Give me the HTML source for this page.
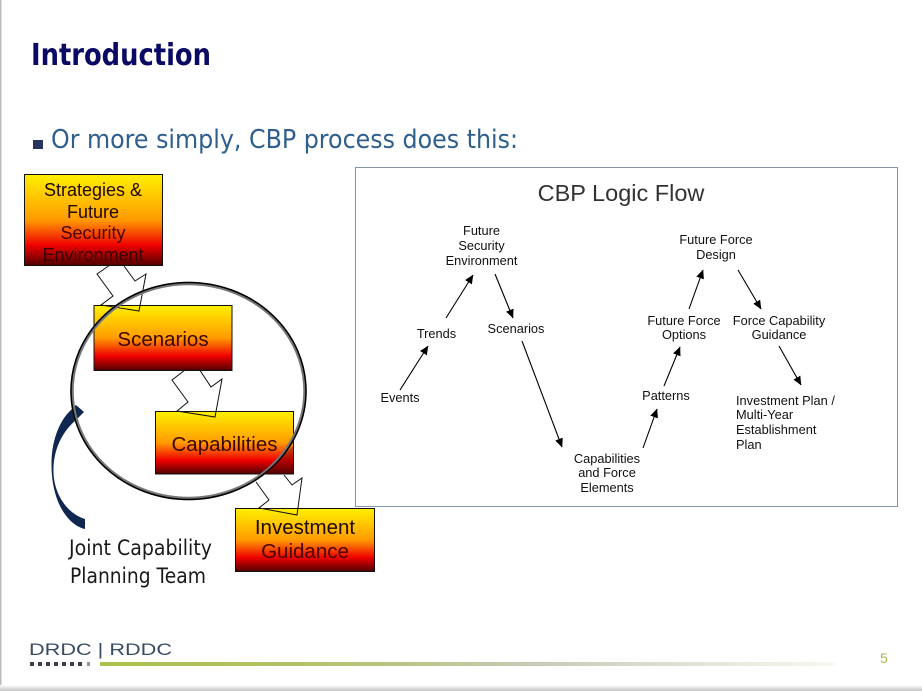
<!DOCTYPE html>
<html><head><meta charset="utf-8"><style>
html,body{margin:0;padding:0;background:#fff;overflow:hidden}
svg{display:block;filter:blur(.35px)}
text{font-family:"Liberation Sans",sans-serif}
</style></head><body>
<svg width="922" height="691" viewBox="0 0 922 691" xmlns="http://www.w3.org/2000/svg">
<defs>
<linearGradient id="g" x1="0" y1="0" x2="0" y2="1">
<stop offset="0" stop-color="#fff000"/><stop offset=".5" stop-color="#ff9a00"/><stop offset=".78" stop-color="#ef0000"/><stop offset="1" stop-color="#500000"/>
</linearGradient>
<linearGradient id="bar" x1="0" y1="0" x2="1" y2="0">
<stop offset="0" stop-color="#a9c24a"/><stop offset=".3" stop-color="#b3c36a"/><stop offset=".6" stop-color="#c8cbb8"/><stop offset="1" stop-color="#f8f8f4"/>
</linearGradient>
<linearGradient id="bot" x1="0" y1="0" x2="0" y2="1">
<stop offset="0" stop-color="#fff"/><stop offset="1" stop-color="#c4c4c4"/>
</linearGradient>
<marker id="a" markerUnits="userSpaceOnUse" markerWidth="9" markerHeight="8" refX="8.5" refY="4" orient="auto"><path d="M0 0L9 4L0 8Z" fill="#000"/></marker>
</defs>
<rect width="922" height="691" fill="#fff"/>
<rect x="0" y="0" width="1.5" height="691" fill="#bbb"/>
<rect x="0" y="685" width="922" height="6" fill="url(#bot)"/>

<text x="31" y="65" font-size="30" font-weight="bold" fill="#0a0a64" textLength="180" lengthAdjust="spacingAndGlyphs" style="font-family:'DejaVu Sans',sans-serif">Introduction</text>
<rect x="33" y="140" width="10" height="9" fill="#27345f"/>
<text x="51" y="148" font-size="26" fill="#2f5f8c" textLength="467" lengthAdjust="spacingAndGlyphs" style="font-family:'DejaVu Sans',sans-serif">Or more simply, CBP process does this:</text>

<rect x="24.5" y="174.5" width="138" height="91" fill="url(#g)" stroke="#111" stroke-width="1"/>
<g font-size="18" text-anchor="middle" fill="#1c0800">
<text x="93" y="196">Strategies &amp;</text>
<text x="93" y="218">Future</text>
<text x="93" y="239" fill="#4a0000">Security</text>
<text x="93" y="261" fill="#3a0000">Environment</text>
</g>
<rect x="94" y="305.5" width="138" height="65" fill="url(#g)" stroke="#111" stroke-width="1"/>
<text x="163" y="346" font-size="20.500" text-anchor="middle" fill="#3a0600">Scenarios</text>
<rect x="155.5" y="411.5" width="138" height="62.5" fill="url(#g)" stroke="#111" stroke-width="1"/>
<text x="224.500" y="451" font-size="20.500" text-anchor="middle" fill="#3a0600">Capabilities</text>
<rect x="235.500" y="508.500" width="139" height="63" fill="url(#g)" stroke="#111" stroke-width="1"/>
<text x="305" y="534" font-size="20.500" text-anchor="middle" fill="#1c0800">Investment</text>
<text x="305" y="558" font-size="20.500" text-anchor="middle" fill="#4a0000">Guidance</text>

<g fill="none" stroke="#111" stroke-width="1">
<polyline points="110,265 97,274 113,296 101,305 139,311 146,274 135,281 124,266"/>
<polyline points="185,370 172,380 188,402 177,411 215,417 222,379 211,387 199,369"/>
<polyline points="256,482 269,500 259,508 297,515 302,478 292,485 284,475"/>
</g>

<path d="M85,529 C70,526 52,505 51.500,466 C51,444 58,424 68,413 L76,405 L84,412 L76,420 C62,432 53,450 53.500,472 C54,495 68,514 85,519Z" fill="#10274f"/>

<ellipse cx="188.500" cy="391" rx="116.500" ry="107.500" fill="none" stroke="#777" stroke-width="3.500"/>
<ellipse cx="188.500" cy="391" rx="117.500" ry="108.500" fill="none" stroke="#000" stroke-width="1.500"/>
<path d="M294,474 L294,445 L278,461 L262,474Z" fill="#500000" opacity=".35"/>

<text x="69" y="555" font-size="21" fill="#1a1a1a" textLength="143" lengthAdjust="spacingAndGlyphs" style="font-family:'DejaVu Sans',sans-serif">Joint Capability</text>
<text x="70" y="583" font-size="21" fill="#1a1a1a" textLength="136" lengthAdjust="spacingAndGlyphs" style="font-family:'DejaVu Sans',sans-serif">Planning Team</text>

<rect x="355.500" y="167.500" width="542" height="339" fill="#fff" stroke="#8494a8" stroke-width="1"/>
<text x="621" y="201" font-size="23.500" text-anchor="middle" fill="#333">CBP Logic Flow</text>

<g font-size="12.800" fill="#111" text-anchor="middle">
<text x="481.500" y="235">Future</text><text x="481.500" y="250">Security</text><text x="481.500" y="265">Environment</text>
<text x="436.500" y="338">Trends</text>
<text x="516" y="333">Scenarios</text>
<text x="400" y="402">Events</text>
<text x="607" y="463">Capabilities</text><text x="607" y="477">and Force</text><text x="607" y="492">Elements</text>
<text x="716" y="244">Future Force</text><text x="716" y="259">Design</text>
<text x="684" y="325">Future Force</text><text x="684" y="339">Options</text>
<text x="779" y="325">Force Capability</text><text x="779" y="339">Guidance</text>
<text x="666" y="400">Patterns</text>
</g>
<g font-size="12.800" fill="#111">
<text x="736" y="405">Investment Plan /</text><text x="736" y="419">Multi-Year</text><text x="736" y="434">Establishment</text><text x="736" y="449">Plan</text>
</g>

<g stroke="#000" stroke-width="1.100">
<line x1="400" y1="390" x2="428" y2="346" marker-end="url(#a)"/>
<line x1="446" y1="318" x2="473" y2="275" marker-end="url(#a)"/>
<line x1="495" y1="274" x2="513" y2="318" marker-end="url(#a)"/>
<line x1="522" y1="341" x2="562" y2="447" marker-end="url(#a)"/>
<line x1="643" y1="448" x2="657" y2="409" marker-end="url(#a)"/>
<line x1="664" y1="386" x2="680" y2="347" marker-end="url(#a)"/>
<line x1="689" y1="309" x2="703" y2="270" marker-end="url(#a)"/>
<line x1="738" y1="270" x2="761" y2="309" marker-end="url(#a)"/>
<line x1="779" y1="346" x2="801" y2="385" marker-end="url(#a)"/>
</g>

<text x="29" y="655" font-size="17" fill="#3a4c63" textLength="143" lengthAdjust="spacingAndGlyphs">DRDC | RDDC</text>
<g fill="#3a3f48">
<rect x="30" y="662" width="4" height="4"/><rect x="38" y="662" width="4" height="4"/><rect x="46" y="662" width="4" height="4"/><rect x="54" y="662" width="4" height="4"/><rect x="62" y="662" width="4" height="4"/><rect x="70" y="662" width="4" height="4"/><rect x="78" y="662" width="4" height="4"/><rect x="87" y="662" width="3" height="4" fill="#999"/>
</g>
<rect x="100" y="662" width="735" height="4" fill="url(#bar)"/>
<text x="880" y="663" font-size="14" fill="#b0b84a">5</text>
</svg>
</body></html>
